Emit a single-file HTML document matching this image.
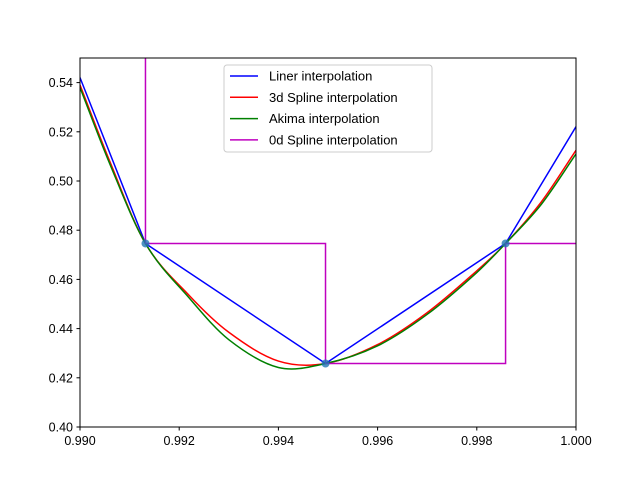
<!DOCTYPE html>
<html><head><meta charset="utf-8"><style>
body{margin:0;background:#fff;}
svg{font-family:"Liberation Sans","DejaVu Sans",sans-serif;}
</style></head><body>
<svg id="chart" width="640" height="480"></svg>
<script>
const dataX=[0.98769,0.99132,0.99495,0.99858,1.00221];
const dataY=[0.66,0.4746,0.4258,0.4746,0.596];
const splineX=[0.990,0.9906,0.99132,0.9922,0.993,0.994,0.99495,0.996,0.997,0.998,0.99858,0.9993,1.000];
const splineY=[0.539,0.508,0.4746,0.4535,0.4385,0.4268,0.4258,0.4335,0.4465,0.4635,0.4746,0.4915,0.5125];
const akimaY=[0.538,0.507,0.4746,0.4525,0.4355,0.4242,0.4258,0.4330,0.4458,0.4628,0.4746,0.4905,0.511];
const xTicks=[0.990,0.992,0.994,0.996,0.998,1.000];
const yTicks=[0.40,0.42,0.44,0.46,0.48,0.50,0.52,0.54];
const legendLabels=["Liner interpolation","3d Spline interpolation","Akima interpolation","0d Spline interpolation"];
const colors=["#0000ff","#ff0000","#008000","#bf00bf"];
const L=80,R=576,T=58,B=427,xmin=0.99,xmax=1.0,ymin=0.40,ymax=0.55;
const sx=v=>L+(v-xmin)/(xmax-xmin)*(R-L);
const sy=v=>B-(v-ymin)/(ymax-ymin)*(B-T);
const NS="http://www.w3.org/2000/svg";
const svg=document.getElementById('chart');
function mk(tag,attrs,parent){const e=document.createElementNS(NS,tag);for(const k in attrs)e.setAttribute(k,attrs[k]);(parent||svg).appendChild(e);return e;}
const defs=mk('defs',{});const cp=mk('clipPath',{id:'clip'},defs);mk('rect',{x:L,y:T,width:R-L,height:B-T},cp);
const g=mk('g',{'clip-path':'url(#clip)'});


function line(xs,ys,color,name){const d=xs.map((x,i)=>(i?'L':'M')+sx(x).toFixed(2)+','+sy(ys[i]).toFixed(2)).join('');const p=mk('path',{d:d,fill:'none',stroke:color,'stroke-width':1.5},g);

}
function smooth(xs,ys,color,name){const P=xs.map((x,i)=>[sx(x),sy(ys[i])]);let d='M'+P[0][0]+','+P[0][1];
const n=P.length,m=[];
for(let i=0;i<n;i++){const a=P[Math.max(0,i-1)],b=P[Math.min(n-1,i+1)];m.push((b[1]-a[1])/(b[0]-a[0]));}
for(let i=0;i<n-1;i++){const p1=P[i],p2=P[i+1],h=(p2[0]-p1[0])/3;
d+='C'+(p1[0]+h)+','+(p1[1]+m[i]*h)+' '+(p2[0]-h)+','+(p2[1]-m[i+1]*h)+' '+p2[0]+','+p2[1];}
const p=mk('path',{d:d,fill:'none',stroke:color,'stroke-width':1.5},g);

}
line(dataX,dataY,colors[0],'linear-line');
smooth(splineX,splineY,colors[1],'cubic-spline-line');
smooth(splineX,akimaY,colors[2],'akima-line');
let sxs=[],sys=[];
for(let i=0;i<dataX.length;i++){if(i>0){sxs.push(dataX[i]);sys.push(dataY[i-1]);}sxs.push(dataX[i]);sys.push(dataY[i]);}
line(sxs,sys,colors[3],'step-line');
dataX.forEach((x,i)=>{const c=mk('circle',{cx:sx(x),cy:sy(dataY[i]),r:4,fill:'#1f77b4',opacity:0.8},g);

});
const frame=mk('rect',{x:L,y:T,width:R-L,height:B-T,fill:'none',stroke:'#000','stroke-width':1});


xTicks.forEach(v=>{const x=sx(v);mk('line',{x1:x,x2:x,y1:B,y2:B+3.5,stroke:'#000'});
const t=mk('text',{x:x,y:B+18,'font-size':12.5,'text-anchor':'middle'});t.textContent=v.toFixed(3);

});
yTicks.forEach(v=>{const y=sy(v);mk('line',{x1:L-3.5,x2:L,y1:y,y2:y,stroke:'#000'});
const t=mk('text',{x:L-7,y:y+4.5,'font-size':12.5,'text-anchor':'end'});t.textContent=v.toFixed(2);

});
const lg=mk('g',{});


mk('rect',{x:224,y:65,width:208,height:87,rx:3,fill:'#fff','fill-opacity':0.8,stroke:'#ccc'},lg);
legendLabels.forEach((s,i)=>{const y=76+i*21.3;
mk('line',{x1:230,x2:258,y1:y,y2:y,stroke:colors[i],'stroke-width':1.5},lg);
const t=mk('text',{x:269,y:y+4.5,'font-size':13},lg);t.textContent=s;

});
</script>
</body></html>
